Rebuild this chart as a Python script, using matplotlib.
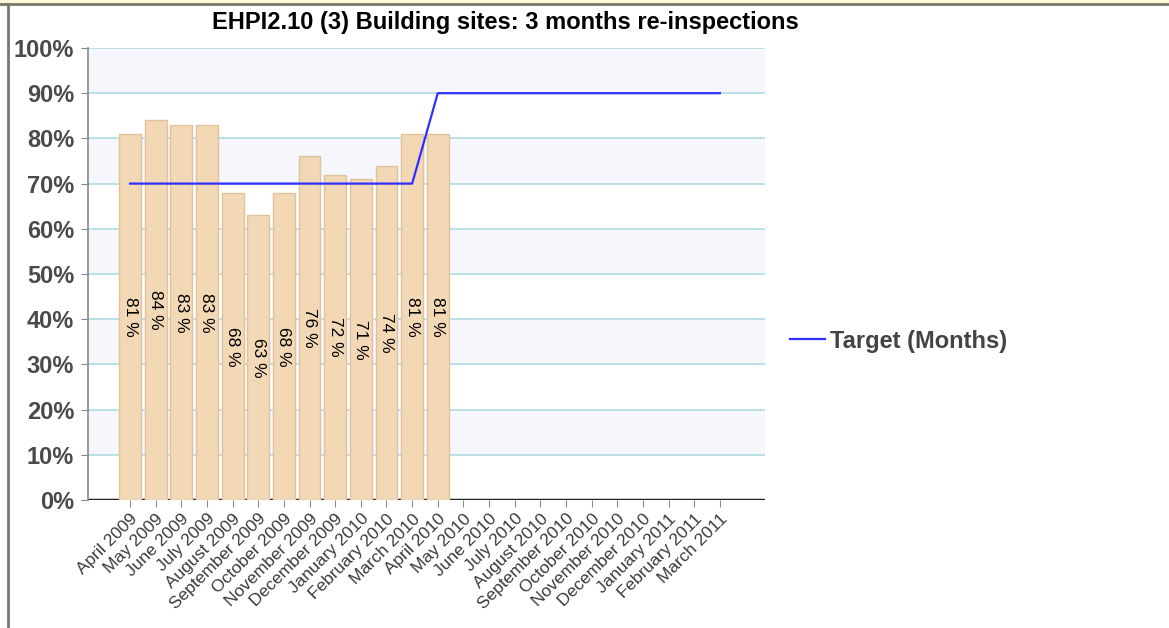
import numpy as np
import matplotlib.pyplot as plt
from matplotlib.lines import Line2D
from matplotlib.patches import Rectangle

plt.rcParams['font.family'] = ['Liberation Sans', 'DejaVu Sans']

# Données
months = ['April 2009', 'May 2009', 'June 2009', 'July 2009', 'August 2009',
          'September 2009', 'October 2009', 'November 2009', 'December 2009',
          'January 2010', 'February 2010', 'March 2010', 'April 2010',
          'May 2010', 'June 2010', 'July 2010', 'August 2010',
          'September 2010', 'October 2010', 'November 2010', 'December 2010',
          'January 2011', 'February 2011', 'March 2011']
actual = [81, 84, 83, 83, 68, 63, 68, 76, 72, 71, 74, 81, 81]
target = [70, 70, 70, 70, 70, 70, 70, 70, 70, 70, 70, 70,
          90, 90, 90, 90, 90, 90, 90, 90, 90, 90, 90, 90]

W, H = 1169, 628
fig = plt.figure(figsize=(W / 100, H / 100), dpi=100)
fig.patch.set_facecolor('white')

# cadre de la page
fig.patches.append(Rectangle((0, 1 - 3 / H), 1, 3 / H, transform=fig.transFigure,
                             facecolor='#fdf8d8', edgecolor='none'))
fig.lines.append(Line2D([0, 1], [1 - 4 / H, 1 - 4 / H], transform=fig.transFigure,
                        color='#77776c', lw=2))
fig.lines.append(Line2D([8 / W, 8 / W], [0, 1 - 4 / H], transform=fig.transFigure,
                        color='#77776c', lw=2))

ax = fig.add_axes([88 / W, 1 - 500 / H, (765 - 88) / W, (500 - 48) / H])
ax.set_xlim(-1.64, 24.76)
ax.set_ylim(0, 100)

# bandes alternées
for lo in range(10, 100, 20):
    ax.axhspan(lo, lo + 10, color='#f5f7fd', zorder=0, lw=0)
for v in range(10, 101, 10):
    ax.axhline(v, color='#aedbe4', lw=1.2, zorder=1)

x = np.arange(len(actual))
bars = ax.bar(x, actual, width=0.85, color='#f3d8b5', edgecolor='#e0c39c',
              linewidth=1, zorder=3)
for xi, v in zip(x, actual):
    ax.text(xi, v / 2, f'{v} %', rotation=270, ha='center', va='center',
            fontsize=12.5, color='black', zorder=5)

ax.plot(np.arange(len(target)), target, color='#2f2fff', lw=1.6, zorder=4)

ax.axhline(0, color='#222222', lw=2.5, zorder=2)

ax.set_xticks(np.arange(len(months)))
ax.set_xticklabels(months, rotation=45, ha='right', va='top', rotation_mode='anchor',
                   fontsize=12.5, color='#3a3a3a')
ax.set_yticks(range(0, 101, 10))
ax.set_yticklabels([f'{v}%' for v in range(0, 101, 10)], fontsize=17,
                   fontweight='bold', color='#4a4a4a')
ax.tick_params(axis='x', length=5, color='#888888', pad=3)
ax.tick_params(axis='y', length=5, color='#888888', pad=5)

for s in ['top', 'right', 'bottom']:
    ax.spines[s].set_visible(False)
ax.spines['left'].set_color('#888888')
ax.spines['left'].set_linewidth(1.2)
ax.set_facecolor('white')

fig.text(505 / W, 1 - 22 / H, 'EHPI2.10 (3) Building sites: 3 months re-inspections',
         ha='center', va='center', fontsize=17, fontweight='bold', color='black')

h = Line2D([], [], color='#2f2fff', lw=1.6)
fig.legend([h], ['Target (Months)'], loc='center left',
           bbox_to_anchor=(769 / W, 1 - 341 / H), frameon=False,
           prop={'size': 17, 'weight': 'bold'}, labelcolor='#444444',
           handlelength=1.48, handletextpad=0.2)

fig.savefig('out.png', dpi=100)
